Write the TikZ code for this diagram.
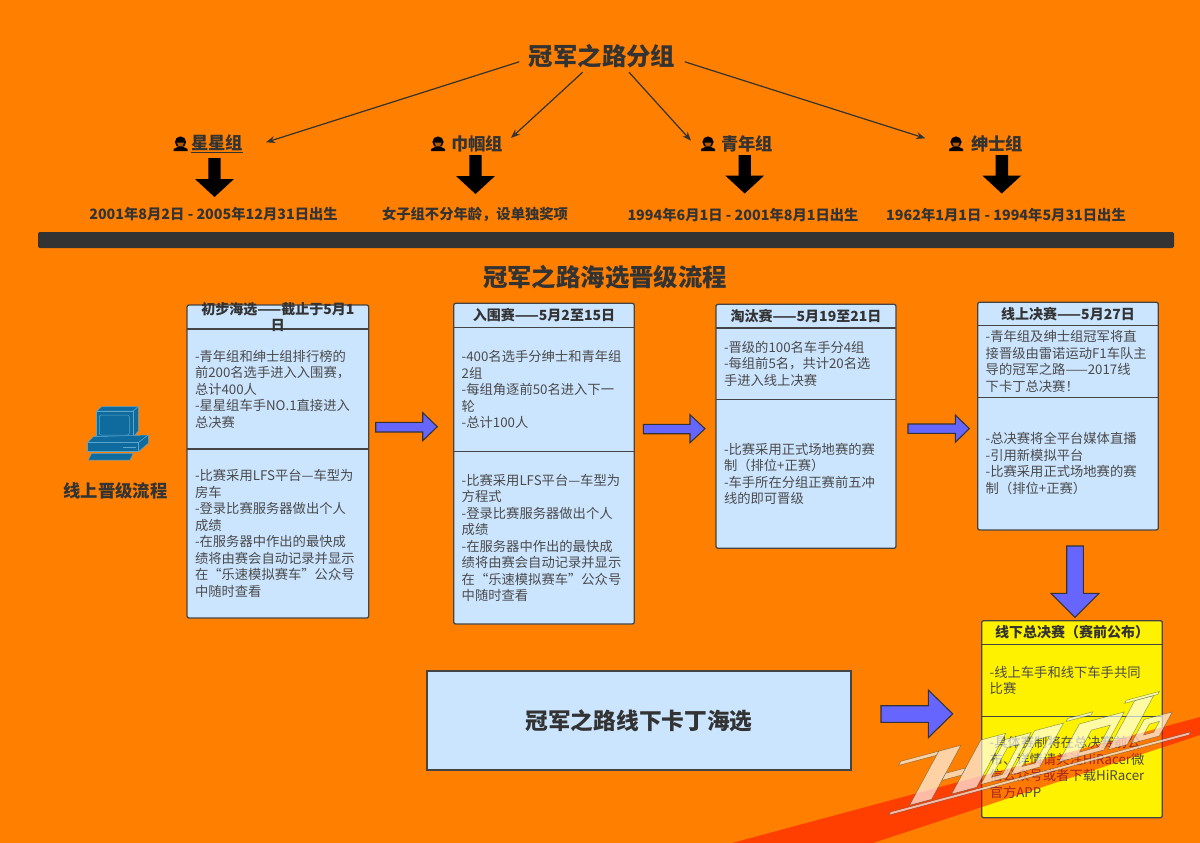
\documentclass[tikz,border=0pt]{standalone}
\usepackage{fontspec}
\setmainfont{Noto Sans CJK SC}
\usetikzlibrary{arrows.meta}
\definecolor{pagebg}{HTML}{FF8000}
\definecolor{cardblue}{HTML}{CCE5FF}
\definecolor{inkdark}{HTML}{333333}
\definecolor{inkbody}{HTML}{4A4A4A}
\definecolor{linedark}{HTML}{444444}
\definecolor{blockblue}{HTML}{6666FF}
\definecolor{pcblue}{HTML}{0F6A9E}
\definecolor{pcedge}{HTML}{5AA6CC}
\tikzset{
  headline/.style={font=\fontsize{24.4}{28}\selectfont\bfseries,text=inkdark,inner sep=0pt},
  grouplabel/.style={font=\fontsize{17.3}{20}\selectfont\bfseries,text=inkdark,inner sep=0pt},
  datelabel/.style={font=\fontsize{14.3}{17}\selectfont\bfseries,text=inkdark,inner sep=0pt},
  linkarrow/.style={draw=inkdark,line width=1.2pt,-{Stealth[length=9pt,width=7pt]}},
  blackblock/.style={fill=black,draw=none},
  blueblock/.style={fill=blockblue,draw=inkdark,line width=1.1pt},
  cardframe/.style={draw=linedark,line width=1.3pt,rounded corners=2pt,inner sep=0pt},
  cardtitle/.style={font=\fontsize{14}{16}\selectfont\bfseries,text=inkdark,align=center,inner sep=0pt},
  cardbody/.style={font=\fontsize{13.3}{16.5}\selectfont,text=inkbody,align=left,inner sep=0pt},
  pcshape/.style={fill=pcblue,draw=pcedge,line width=.5pt,line join=round},
  logoshape/.style={fill=white,fill opacity=.65,draw=black!60!teal,draw opacity=.45,line width=.5pt,even odd rule},
}
\newcommand{\cardat}[6]{\def\cxa{#1}\def\cxb{#2}\def\cya{#3}\def\cyb{#4}\def\cyc{#5}\def\cyd{#6}}
\newcommand{\card}[5]{%
  \pgfmathsetlengthmacro{\cw}{\cxb-\cxa}
  \pgfmathsetlengthmacro{\ch}{\cyd-\cya}
  \pgfmathsetlengthmacro{\ctw}{\cxb-\cxa-16}
  \pgfmathsetmacro{\cmx}{(\cxa+\cxb)/2}
  \node[cardframe,fill=#2,minimum width=\cw,minimum height=\ch] (#1) at ({\cmx},{(\cya+\cyd)/2}) {};
  \draw[draw=linedark,line width=1.2pt] (\cxa,\cyb) -- (\cxb,\cyb);
  \draw[draw=linedark,line width=1.2pt] (\cxa,\cyc) -- (\cxb,\cyc);
  \node[cardtitle,text width=\ctw] (#1-title) at ({\cmx},{(\cya+\cyb)/2}) {#3};
  \node[cardbody,text width=\ctw] (#1-top) at ({\cmx},{(\cyb+\cyc)/2}) {#4};
  \node[cardbody,text width=\ctw] (#1-bottom) at ({\cmx},{(\cyc+\cyd)/2}) {#5};
}
\newcommand{\personicon}[2]{%
  \begin{scope}[shift={(#1,#2)}]
    \fill[black] (-7,8.5) -- (-7,6.5) -- (-3,4.5) -- (3,4.5) -- (7,6.5) -- (7,8.5) -- cycle;
    \fill[black] (0,-.5) circle[radius=5.6];
    \fill[pagebg!70!black] (-3.6,.2) -- (3.6,.2) -- (2,3.8) -- (-2,3.8) -- cycle;
  \end{scope}
}
\newcommand{\downblock}[5]{% cx, top, neck, tip, style
  \path[#5] ({#1-6.2},#2) -- ({#1+6.2},#2) -- ({#1+6.2},#3) -- ({#1+19.5},#3) -- (#1,#4) -- ({#1-19.5},#3) -- ({#1-6.2},#3) -- cycle;
}
\newcommand{\rightblock}[7]{% x0, neckx, tipx, shaft top, shaft bottom, head top, head bottom
  \path[blueblock] (#1,#4) -- (#2,#4) -- (#2,#6) -- (#3,{(#6+#7)/2}) -- (#2,#7) -- (#2,#5) -- (#1,#5) -- cycle;
}
\newcommand{\sq}[4]{(#1,#2) -- (#3,#2) -- (#3,#4) -- (#1,#4) -- cycle}
\begin{document}
\begin{tikzpicture}[x=1pt,y=-1pt]
\useasboundingbox (0,0) rectangle (1200,843);
\fill[pagebg] (0,0) rectangle (1200,843);

% top title and the four groups
\node[headline,minimum width=165pt,minimum height=32pt] (groups) at (602,56) {冠军之路分组};
\node[grouplabel] (star) at (217,144) {\underline{星星组}};
\node[grouplabel] (lady) at (477,144) {巾帼组};
\node[grouplabel] (youth) at (747,144) {青年组};
\node[grouplabel] (gent) at (997,144) {绅士组};
\personicon{180.5}{142.5}
\personicon{438}{142.5}
\personicon{708}{142.5}
\personicon{956}{142.5}
\coordinate (star-in) at (266,142.3);
\coordinate (lady-in) at (511,138);
\coordinate (youth-in) at (691,140.7);
\coordinate (gent-in) at (925.3,138.3);
\draw[linkarrow] (groups.184) -- (star-in);
\draw[linkarrow] (groups.220) -- (lady-in);
\draw[linkarrow] (groups.329) -- (youth-in);
\draw[linkarrow] (groups.356) -- (gent-in);
\downblock{214.5}{158}{179}{197}{blackblock}
\downblock{475.5}{155}{176}{194}{blackblock}
\downblock{744.7}{155}{175.5}{193.5}{blackblock}
\downblock{1001.8}{155}{175.5}{193.5}{blackblock}
\node[datelabel] (star-date) at (213.5,214) {2001年8月2日 - 2005年12月31日出生};
\node[datelabel] (lady-date) at (475,214) {女子组不分年龄，设单独奖项};
\node[datelabel] (youth-date) at (743,215) {1994年6月1日 - 2001年8月1日出生};
\node[datelabel] (gent-date) at (1006,215) {1962年1月1日 - 1994年5月31日出生};
\fill[inkdark,rounded corners=2pt] (38,232) rectangle (1174,248);

\node[headline] (flow) at (605,277) {冠军之路海选晋级流程};

% computer
\path[pcshape] (96.7,411) -- (101.7,406.7) -- (138.3,406.7) -- (133.3,411) -- cycle;
\path[pcshape] (133.3,411) -- (138.3,406.7) -- (138.3,431) -- (133.3,436.7) -- cycle;
\path[pcshape] (96.7,411) rectangle (133.3,436.7);
\path[pcshape,rounded corners=2pt] (99.3,415) rectangle (129.3,435);
\path[pcshape] (87.3,442.7) -- (93.3,436.7) -- (148.3,435) -- (138.3,442.7) -- cycle;
\path[pcshape] (138.3,442.7) -- (148.3,435) -- (148.3,443.3) -- (138.3,451.7) -- cycle;
\path[pcshape] (87.3,442.7) rectangle (138.3,451.7);
\draw[pcedge,line width=.7pt] (123.3,447.7) -- (136,447.7);
\path[pcshape] (91.7,453.3) -- (133.3,453.3) -- (130,460) -- (88.3,460) -- cycle;
\node[grouplabel] (online) at (115.5,491) {线上晋级流程};

% stage cards
\cardat{187}{368.7}{305}{329}{449}{618}
\card{first}{cardblue}{初步海选——截止于5月1\\日}
{-青年组和绅士组排行榜的\\前200名选手进入入围赛，\\总计400人\\-星星组车手NO.1直接进入\\总决赛}
{-比赛采用LFS平台—车型为\\房车\\-登录比赛服务器做出个人\\成绩\\-在服务器中作出的最快成\\绩将由赛会自动记录并显示\\在“乐速模拟赛车”公众号\\中随时查看}

\cardat{453.7}{634.3}{303.3}{327.3}{451.7}{624}
\card{second}{cardblue}{入围赛——5月2至15日}
{-400名选手分绅士和青年组\\2组\\-每组角逐前50名进入下一\\轮\\-总计100人}
{-比赛采用LFS平台—车型为\\方程式\\-登录比赛服务器做出个人\\成绩\\-在服务器中作出的最快成\\绩将由赛会自动记录并显示\\在“乐速模拟赛车”公众号\\中随时查看}

\cardat{716}{896}{304.3}{328}{399.3}{548.3}
\card{third}{cardblue}{淘汰赛——5月19至21日}
{-晋级的100名车手分4组\\-每组前5名，共计20名选\\手进入线上决赛}
{-比赛采用正式场地赛的赛\\制（排位+正赛）\\-车手所在分组正赛前五冲\\线的即可晋级}

\cardat{977.7}{1158.3}{302.3}{325.3}{397.3}{530}
\card{fourth}{cardblue}{线上决赛——5月27日}
{-青年组及绅士组冠军将直\\接晋级由雷诺运动F1车队主\\导的冠军之路——2017线\\下卡丁总决赛！}
{-总决赛将全平台媒体直播\\-引用新模拟平台\\-比赛采用正式场地赛的赛\\制（排位+正赛）}

\cardat{981.7}{1162.3}{620.7}{644.3}{716.7}{817.7}
\card{final}{yellow}{线下总决赛（赛前公布）}
{-线上车手和线下车手共同\\比赛}
{-具体赛制将在总决赛前公\\布、详情请关注HiRacer微\\信公众号或者下载HiRacer\\官方APP}

\node[draw=linedark,line width=1.3pt,fill=cardblue,minimum width=424pt,minimum height=99pt,inner sep=0pt,font=\fontsize{22.7}{26}\selectfont\bfseries,text=inkdark] (kart) at (639,720.5) {冠军之路线下卡丁海选};

% block arrows
\rightblock{375.7}{422.7}{437.3}{422.3}{432}{412.7}{440.7}
\rightblock{643.3}{690}{705}{424.3}{433.7}{414.7}{442.7}
\rightblock{908}{955.3}{969.3}{424}{433.3}{415}{442.3}
\rightblock{881}{928.3}{952.7}{705.7}{722.3}{690}{737.7}
\path[blueblock] (1066.7,546) -- (1083.3,546) -- (1083.3,593.3) -- (1099,593.3) -- (1075,617.3) -- (1051,593.3) -- (1066.7,593.3) -- cycle;

% watermark band and logo
\fill[red,opacity=.5] (732,843) -- (1200,717) -- (1200,735) -- (873,843) -- cycle;
\begin{scope}[shift={(890,813)},x={(1pt,.267pt)},y={(.54pt,1pt)}]
  \path[logoshape] \sq{0}{-2}{300}{1};
  \path[logoshape] \sq{-20}{53}{18}{57};
  \path[logoshape] \sq{18}{3}{40}{57};
  \path[logoshape] \sq{40}{22}{60}{29};
  \path[logoshape] \sq{60}{3}{85}{57};
  \path[logoshape] \sq{88}{5}{114}{50} \sq{96}{10}{107}{40};
  \path[logoshape] \sq{117}{7}{146}{51} \sq{125}{13}{138}{40};
  \path[logoshape] \sq{148}{52}{173}{55};
  \path[logoshape] \sq{165}{7}{210}{45} \sq{183}{12}{202}{34};
  \path[logoshape] \sq{215}{6}{234}{55};
  \path[logoshape] \sq{205}{55}{238}{58};
  \path[logoshape] \sq{238}{6}{266}{30} \sq{247}{12}{257}{23};
\end{scope}
\end{tikzpicture}
\end{document}
